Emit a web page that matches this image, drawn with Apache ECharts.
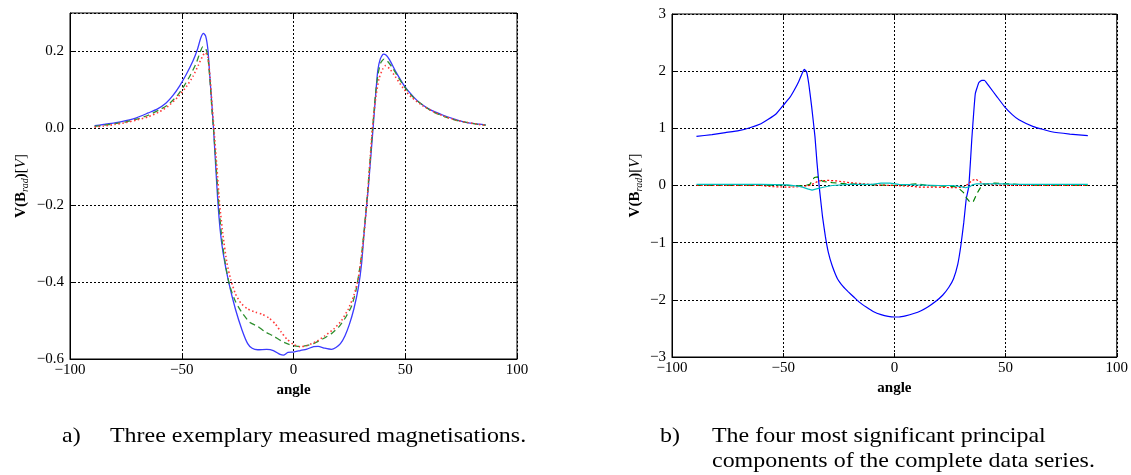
<!DOCTYPE html>
<html>
<head>
<meta charset="utf-8">
<script src="https://cdn.jsdelivr.net/npm/echarts@6/dist/echarts.min.js"></script>
<style>
html,body{margin:0;padding:0;background:#fff;}
#c{width:1131px;height:475px;}
</style>
</head>
<body>
<div id="c"></div>
<script>
// ---------- Panel a: three exemplary measured magnetisations ----------
const blueA = [[-89,0.007],[-85,0.010],[-80,0.014],[-75,0.020],[-70,0.028],[-65,0.040],[-61,0.050],[-57,0.066],[-54,0.085],[-51,0.110],[-48,0.140],[-45,0.175],[-43,0.205],[-41.5,0.235],[-40.3,0.247],[-39.3,0.240],[-38.3,0.205],[-37.5,0.140],[-36.5,0.060],[-35.8,0.000],[-34.8,-0.100],[-33.9,-0.186],[-32.8,-0.265],[-31.5,-0.324],[-29,-0.400],[-26,-0.470],[-23,-0.525],[-20.5,-0.560],[-18.5,-0.572],[-16,-0.576],[-12,-0.575],[-9,-0.578],[-6,-0.588],[-4.5,-0.590],[-2.5,-0.583],[0,-0.582],[3,-0.578],[6,-0.574],[9,-0.568],[11,-0.567],[14,-0.572],[17,-0.575],[19,-0.570],[21,-0.560],[23,-0.540],[25,-0.510],[27,-0.470],[29,-0.415],[30.5,-0.350],[31.6,-0.272],[33.5,-0.152],[35.6,0.000],[36.8,0.090],[37.7,0.150],[38.8,0.180],[40.2,0.193],[41.5,0.190],[43,0.178],[46,0.145],[50,0.107],[54,0.080],[57,0.064],[62,0.046],[67,0.034],[72,0.024],[76,0.017],[81,0.012],[86,0.009]];
const greenA = [[-89,0.005],[-85,0.008],[-80,0.012],[-75,0.017],[-70,0.024],[-65,0.034],[-60,0.048],[-56,0.062],[-52,0.085],[-49,0.110],[-46,0.140],[-43.5,0.170],[-41.8,0.198],[-40.6,0.212],[-39.3,0.208],[-38.3,0.185],[-37.3,0.120],[-36.4,0.040],[-35.8,0.000],[-34.6,-0.100],[-33.4,-0.200],[-32,-0.290],[-30.3,-0.360],[-28.5,-0.410],[-26,-0.450],[-23,-0.480],[-19.5,-0.505],[-16,-0.515],[-12.5,-0.530],[-9,-0.540],[-5.5,-0.553],[-2,-0.562],[2,-0.567],[5,-0.566],[9,-0.560],[13,-0.548],[17,-0.534],[20.5,-0.515],[23.5,-0.490],[26,-0.462],[28,-0.420],[30,-0.350],[31.5,-0.272],[33.3,-0.155],[35.4,0.000],[36.7,0.090],[37.8,0.140],[39,0.170],[40.5,0.180],[42,0.175],[44,0.160],[47,0.132],[50,0.105],[54,0.078],[58,0.060],[62,0.044],[67,0.032],[72,0.022],[77,0.016],[82,0.011],[86,0.008]];
const redA = [[-89,0.003],[-85,0.006],[-80,0.010],[-75,0.015],[-70,0.022],[-65,0.030],[-60,0.043],[-56,0.058],[-52,0.080],[-48,0.108],[-45,0.135],[-42.5,0.165],[-40.5,0.190],[-39.4,0.197],[-38.3,0.185],[-37.3,0.130],[-36.3,0.050],[-35.6,0.000],[-34.3,-0.100],[-33,-0.200],[-31.5,-0.280],[-29.8,-0.350],[-28,-0.395],[-26,-0.430],[-23.5,-0.455],[-20.5,-0.470],[-17,-0.478],[-14,-0.484],[-11,-0.493],[-8,-0.510],[-5.5,-0.530],[-3,-0.548],[0,-0.562],[3,-0.568],[6,-0.565],[10,-0.555],[14,-0.540],[18,-0.522],[21.5,-0.500],[24.5,-0.470],[27,-0.435],[29,-0.390],[30.5,-0.330],[31.8,-0.260],[33.3,-0.160],[35.3,0.000],[36.8,0.080],[38.3,0.130],[40,0.155],[41.2,0.163],[43,0.155],[45.5,0.135],[49,0.105],[53,0.080],[58,0.058],[63,0.042],[68,0.030],[73,0.021],[78,0.015],[83,0.010],[86,0.008]];

// ---------- Panel b: four most significant principal components ----------
const pc1 = [[-89,0.860],[-82,0.890],[-76,0.926],[-70,0.960],[-65,1.010],[-60,1.080],[-56.7,1.157],[-53,1.260],[-50,1.400],[-47,1.540],[-45,1.670],[-43,1.820],[-41.5,1.960],[-40.5,2.030],[-39.5,1.990],[-38.5,1.780],[-37.2,1.380],[-35.7,0.850],[-34.8,0.400],[-33.8,-0.020],[-32.3,-0.550],[-31,-0.900],[-29.7,-1.170],[-28,-1.400],[-25.6,-1.630],[-23,-1.770],[-20.7,-1.860],[-18,-1.960],[-15.8,-2.040],[-12.5,-2.130],[-9.3,-2.210],[-6,-2.260],[-2.8,-2.290],[0,-2.300],[2.1,-2.300],[5,-2.280],[8.7,-2.240],[12,-2.190],[15.2,-2.120],[18.5,-2.030],[21.7,-1.920],[24.5,-1.780],[26.6,-1.630],[28.5,-1.380],[29.9,-1.050],[31.2,-0.650],[32.3,-0.240],[33.5,-0.010],[34.8,0.800],[36.4,1.610],[38,1.800],[39.3,1.840],[40.5,1.840],[42.9,1.720],[46,1.560],[49.5,1.380],[53,1.240],[56,1.150],[62.5,1.030],[70.7,0.940],[78.9,0.900],[87,0.874]];
const pc2 = [[-89,0.00],[-60,0.00],[-50,0.01],[-45,-0.01],[-40,0.00],[-38,0.02],[-37,0.08],[-36,0.14],[-34.5,0.15],[-33.5,0.10],[-32,0.07],[-28,0.05],[-22,0.03],[-15,0.02],[-8,0.01],[0,0.00],[10,0.03],[15,0.00],[22,-0.01],[27,-0.02],[29,-0.05],[31,-0.12],[32.5,-0.22],[34,-0.29],[35.5,-0.28],[37,-0.15],[38.5,-0.05],[40,0.02],[45,0.04],[50,0.03],[55,0.02],[65,0.00],[87,0.00]];
const pc3 = [[-89,0.00],[-60,0.00],[-55,-0.02],[-48,-0.03],[-42,-0.02],[-38,0.00],[-36,0.04],[-34,0.08],[-30,0.09],[-26,0.08],[-20,0.05],[-14,0.03],[-8,0.01],[0,0.00],[6,-0.01],[12,-0.03],[20,-0.03],[27,-0.04],[31,-0.03],[33,0.02],[35,0.09],[36.5,0.11],[38,0.08],[40,0.03],[45,0.01],[55,0.00],[87,0.00]];
const pc4 = [[-89,0.02],[-60,0.02],[-48,0.01],[-42,-0.02],[-39,-0.06],[-37,-0.08],[-35,-0.06],[-32,-0.03],[-28,0.00],[-20,0.02],[-10,0.02],[-6,0.04],[-2,0.04],[2,0.02],[10,0.01],[20,0.00],[26,0.00],[30,-0.02],[32,-0.04],[34,-0.02],[35,0.01],[37,0.03],[44,0.03],[48,0.03],[55,0.02],[70,0.02],[87,0.02]];

const xTicks = {min:-100, max:100, interval:50};
const yTicksA = {min:-0.6, max:0.3, interval:0.2};
const yTicksB = {min:-3, max:3, interval:1};
const captionA = ['a)', 'Three exemplary measured magnetisations.'];
const captionB = ['b)', 'The four most significant principal', 'components of the complete data series.'];

const SERIF = '"Liberation Serif", "DejaVu Serif", serif';
const minus = s => String(s).replace('-', '\u2212');
const fmtX = v => minus(v);
const fmtA = v => minus((Math.round(v*10)/10).toFixed(1));
const fmtB = v => minus(Math.round(v));

const gridDot = {show:true, lineStyle:{color:'#000', width:1, type:[2,2]}};
const lblStyle = {color:'#000', fontFamily:SERIF, fontSize:15};
const yName = {
  name:'{b|V(B}{s|rad}{b|)}{n|[}{i|V}{n|]}',
  nameLocation:'middle', nameRotate:90,
  nameTextStyle:{
    color:'#000', fontFamily:SERIF,
    rich:{
      b:{fontWeight:'bold', fontSize:15, fontFamily:SERIF, color:'#000', lineHeight:18},
      s:{fontStyle:'italic', fontSize:10, fontFamily:SERIF, color:'#000', lineHeight:18, verticalAlign:'bottom'},
      n:{fontSize:15, fontFamily:SERIF, color:'#000', lineHeight:18},
      i:{fontStyle:'italic', fontSize:15, fontFamily:SERIF, color:'#000', lineHeight:18}
    }
  }
};

function mainX(gi){
  return {type:'value', gridIndex:gi, ...xTicks,
    name:'angle', nameLocation:'middle', nameGap:18,
    nameTextStyle:{fontWeight:'bold', fontSize:15, fontFamily:SERIF, color:'#000'},
    axisLine:{show:true, onZero:false, lineStyle:{color:'#000', width:1}},
    axisTick:{show:true, inside:true, length:4, lineStyle:{color:'#000'}},
    axisLabel:{...lblStyle, margin:4, formatter:fmtX},
    splitLine:gridDot};
}
function sideX(gi){
  return {type:'value', gridIndex:gi, position:'top', ...xTicks,
    axisLine:{show:false, onZero:false}, axisTick:{show:true, inside:true, length:4, lineStyle:{color:'#000'}},
    axisLabel:{show:false}, splitLine:{show:false}};
}
function mainY(gi, ticks, fmt, gap){
  return {type:'value', gridIndex:gi, ...ticks, ...yName, nameGap:gap,
    axisLine:{show:true, onZero:false, lineStyle:{color:'#000', width:1}},
    axisTick:{show:true, inside:true, length:4, lineStyle:{color:'#000'}},
    axisLabel:{...lblStyle, margin:6, formatter:fmt, showMaxLabel: ticks.max % ticks.interval === 0 ? true : false},
    splitLine:gridDot};
}
function sideY(gi, ticks){
  return {type:'value', gridIndex:gi, position:'right', ...ticks,
    axisLine:{show:false, onZero:false}, axisTick:{show:true, inside:true, length:4, lineStyle:{color:'#000'}},
    axisLabel:{show:false}, splitLine:{show:false}};
}
function line(data, xi, yi, color, type, width, smooth){
  return {type:'line', xAxisIndex:xi, yAxisIndex:yi, data, showSymbol:false, symbol:'none',
    smooth: smooth, lineStyle:{color, width, type}, z:3};
}

const CAP = '21px ' + SERIF;
function cap(text, x, y){
  return {type:'text', x:x, y:y, scaleX:1.14, style:{text:text, font:CAP, fill:'#000', textVerticalAlign:'middle'}};
}

const chart = echarts.init(document.getElementById('c'), null, {renderer:'canvas'});
chart.setOption({
  animation:false,
  backgroundColor:'#fff',
  grid:[
    {left:70, top:13, width:447, height:346, show:true, borderColor:'#000', borderWidth:1, backgroundColor:'transparent'},
    {left:672, top:14, width:445, height:343, show:true, borderColor:'#000', borderWidth:1, backgroundColor:'transparent'}
  ],
  xAxis:[mainX(0), sideX(0), mainX(1), sideX(1)],
  yAxis:[mainY(0, yTicksA, fmtA, 40), sideY(0, yTicksA), mainY(1, yTicksB, fmtB, 28), sideY(1, yTicksB)],
  series:[
    line(blueA, 0, 0, '#3a3aff', 'solid', 1.3, 0.2),
    line(greenA, 0, 0, '#2f8f2f', [6,4], 1.3, 0.2),
    line(redA, 0, 0, '#ff3a3a', [1.5,2.5], 1.6, 0.2),
    line(pc1, 2, 2, '#0000ff', 'solid', 1.2, 0.1),
    line(pc2, 2, 2, '#007f00', [6,4], 1.2, false),
    line(pc3, 2, 2, '#ff0000', [2,2], 1.2, false),
    line(pc4, 2, 2, '#00bfbf', 'solid', 1.2, false)
  ],
  graphic:[
    cap(captionA[0], 62, 436),
    cap(captionA[1], 110, 436),
    cap(captionB[0], 660, 436),
    cap(captionB[1], 712, 436),
    cap(captionB[2], 712, 461)
  ]
});
</script>
</body>
</html>
